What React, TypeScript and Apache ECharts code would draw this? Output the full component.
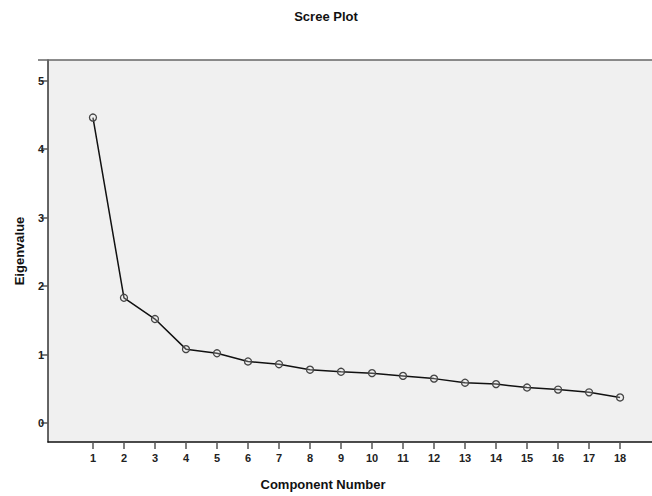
import React, { useEffect, useRef } from "react";
import * as echarts from "echarts";

const components = [1, 2, 3, 4, 5, 6, 7, 8, 9, 10, 11, 12, 13, 14, 15, 16, 17, 18];
const eigenvalues = [4.46, 1.83, 1.52, 1.08, 1.02, 0.9, 0.86, 0.78, 0.75, 0.73, 0.69, 0.65, 0.59, 0.57, 0.52, 0.49, 0.45, 0.375];
const yTicks = [0, 1, 2, 3, 4, 5];
const xTicks = components;

export default function App() {
  const ref = useRef<HTMLDivElement>(null);
  useEffect(() => {
    if (!ref.current) return;
    const chart = echarts.init(ref.current, null, { renderer: "svg" });
    const font = "'Liberation Sans', Arial, sans-serif";
    chart.setOption({
      animation: false,
      backgroundColor: "#ffffff",
      title: {
        text: "Scree Plot",
        left: "center",
        top: 5,
        textStyle: { fontFamily: font, fontSize: 13, fontWeight: "bold", color: "#111" },
      },
      grid: {
        left: 48,
        top: 60,
        right: -2,
        bottom: 50,
        show: true,
        backgroundColor: "#f0f0f0",
        borderWidth: 0,
      },
      graphic: [
        {
          type: "line",
          shape: { x1: 38, y1: 60, x2: 652, y2: 60 },
          style: { stroke: "#666", lineWidth: 1.5 },
          z: 10,
        },
      ],
      xAxis: {
        type: "value",
        min: -0.45,
        max: 19.03,
        name: "Component Number",
        nameLocation: "middle",
        nameGap: 36,
        nameTextStyle: { fontFamily: font, fontSize: 13, fontWeight: "bold", color: "#111", padding: [0, 54, 0, 0] },
        axisLine: { show: true, onZero: false, lineStyle: { color: "#111", width: 1.5 } },
        axisTick: { show: true, length: 7, customValues: xTicks, lineStyle: { color: "#555", width: 1.5 } },
        axisLabel: { customValues: xTicks, margin: 10, fontFamily: font, fontSize: 11, fontWeight: "bold", color: "#222" },
        splitLine: { show: false },
      },
      yAxis: {
        type: "value",
        min: -0.275,
        max: 5.3,
        name: "Eigenvalue",
        nameLocation: "middle",
        nameGap: 22,
        nameRotate: 90,
        nameTextStyle: { fontFamily: font, fontSize: 13, fontWeight: "bold", color: "#111" },
        axisLine: { show: true, onZero: false, lineStyle: { color: "#333", width: 1.5 } },
        axisTick: { show: true, length: 7, customValues: yTicks, lineStyle: { color: "#555", width: 1.5 } },
        axisLabel: { customValues: yTicks, margin: 4, fontFamily: font, fontSize: 11, fontWeight: "bold", color: "#222" },
        splitLine: { show: false },
      },
      series: [
        {
          type: "line",
          data: components.map((c, i) => [c, eigenvalues[i]]),
          symbol: "circle",
          symbolSize: 7,
          z: 3,
          lineStyle: { color: "#111", width: 1.5 },
          itemStyle: { color: "rgba(240,240,240,0.25)", borderColor: "#444", borderWidth: 1.3 },
        },
      ],
    });
    return () => chart.dispose();
  }, []);
  return <div ref={ref} style={{ position: "fixed", left: 0, top: 0, width: 652, height: 496 }} />;
}
